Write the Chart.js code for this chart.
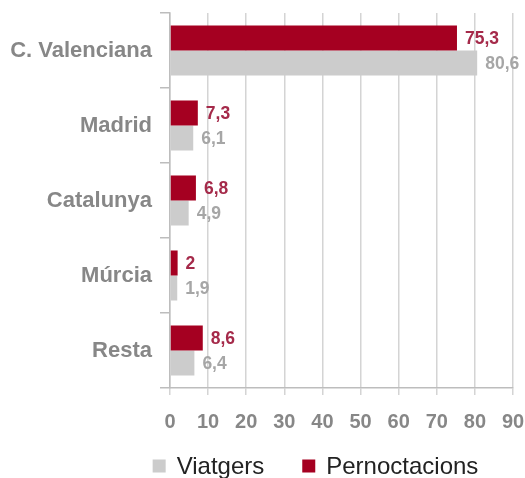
<!DOCTYPE html>
<html>
<head>
<meta charset="utf-8">
<script src="https://cdn.jsdelivr.net/npm/chart.js@4/dist/chart.umd.min.js"></script>
<style>
  html, body { margin: 0; padding: 0; background: #fff; }
  #wrap { width: 525px; height: 478px; }
</style>
</head>
<body>
<div id="wrap"><canvas id="originChart"></canvas></div>
<script>
// Origen dels turistes: viatgers i pernoctacions (%)
const regions = ['C. Valenciana', 'Madrid', 'Catalunya', 'Múrcia', 'Resta'];
const viatgers = [80.6, 6.1, 4.9, 1.9, 6.4];
const pernoctacions = [75.3, 7.3, 6.8, 2, 8.6];
const xTicks = [0, 10, 20, 30, 40, 50, 60, 70, 80, 90];

const red = '#a50021';
const redText = '#a52a4a';
const grey = '#cccccc';
const greyText = '#a6a6a6';
const axisText = '#878787';
const gridCol = '#d4d4d4';
const font = '"Liberation Sans", Arial, sans-serif';

const fmt = v => String(v).replace('.', ',');

// value labels at the end of each bar
const barValues = {
  id: 'barValues',
  afterDatasetsDraw(chart) {
    const ctx = chart.ctx;
    ctx.save();
    ctx.font = 'bold 17.5px ' + font;
    ctx.textBaseline = 'middle';
    ctx.textAlign = 'left';
    chart.data.datasets.forEach((ds, i) => {
      ctx.fillStyle = ds.labelColor;
      chart.getDatasetMeta(i).data.forEach((bar, j) => {
        ctx.fillText(fmt(ds.data[j]), bar.x + 8, bar.y + 1);
      });
    });
    ctx.restore();
  }
};

// legend under the axis, Viatgers first
const bottomLegend = {
  id: 'bottomLegend',
  afterDraw(chart) {
    const ctx = chart.ctx;
    const area = chart.chartArea;
    const box = 13, gap = 11, spacing = 38;
    const items = chart.data.datasets.slice().reverse();
    ctx.save();
    ctx.font = '24px ' + font;
    ctx.textBaseline = 'middle';
    const widths = items.map(ds => box + gap + ctx.measureText(ds.label).width);
    const total = widths.reduce((a, b) => a + b, 0) + spacing * items.length;
    let x = area.left + (area.right - area.left - total) / 2 - 7;
    const y = 466;
    items.forEach((ds, i) => {
      ctx.fillStyle = ds.backgroundColor;
      ctx.fillRect(x, y - box / 2, box, box);
      ctx.fillStyle = '#222';
      ctx.fillText(ds.label, x + box + gap, y + 1);
      x += widths[i] + spacing;
    });
    ctx.restore();
  }
};

new Chart(document.getElementById('originChart'), {
  type: 'bar',
  data: {
    labels: regions,
    datasets: [
      { label: 'Pernoctacions', data: pernoctacions, backgroundColor: red, labelColor: redText,
        categoryPercentage: 0.667, barPercentage: 1.0 },
      { label: 'Viatgers', data: viatgers, backgroundColor: grey, labelColor: greyText,
        categoryPercentage: 0.667, barPercentage: 1.0 }
    ]
  },
  options: {
    indexAxis: 'y',
    responsive: true,
    maintainAspectRatio: false,
    animation: false,
    layout: { padding: { top: 13, right: 12, left: 0, bottom: 45 } },
    plugins: {
      tooltip: { enabled: false },
      legend: { display: false }
    },
    scales: {
      x: {
        min: 0,
        max: 90,
        afterBuildTicks(scale) { scale.ticks = xTicks.map(v => ({ value: v })); },
        afterFit(scale) {
          scale.height = 45;
          scale.paddingLeft = 0;
          scale.paddingRight = 0;
        },
        ticks: {
          color: axisText,
          font: { family: font, size: 20, weight: 'bold' },
          padding: 15,
          maxRotation: 0
        },
        grid: { color: gridCol, lineWidth: 1.5, tickLength: 7 },
        border: { color: '#bdbdbd', width: 1.5 }
      },
      y: {
        afterFit(scale) {
          scale.width = 170;
          scale.paddingTop = 0;
          scale.paddingBottom = 0;
        },
        ticks: {
          color: axisText,
          font: { family: font, size: 22, weight: 'bold' },
          padding: 8
        },
        grid: { offset: true, drawOnChartArea: false, color: '#bdbdbd', lineWidth: 1.5, tickLength: 10 },
        border: { color: '#bdbdbd', width: 1.5 }
      }
    }
  },
  plugins: [barValues, bottomLegend]
});
</script>
</body>
</html>
